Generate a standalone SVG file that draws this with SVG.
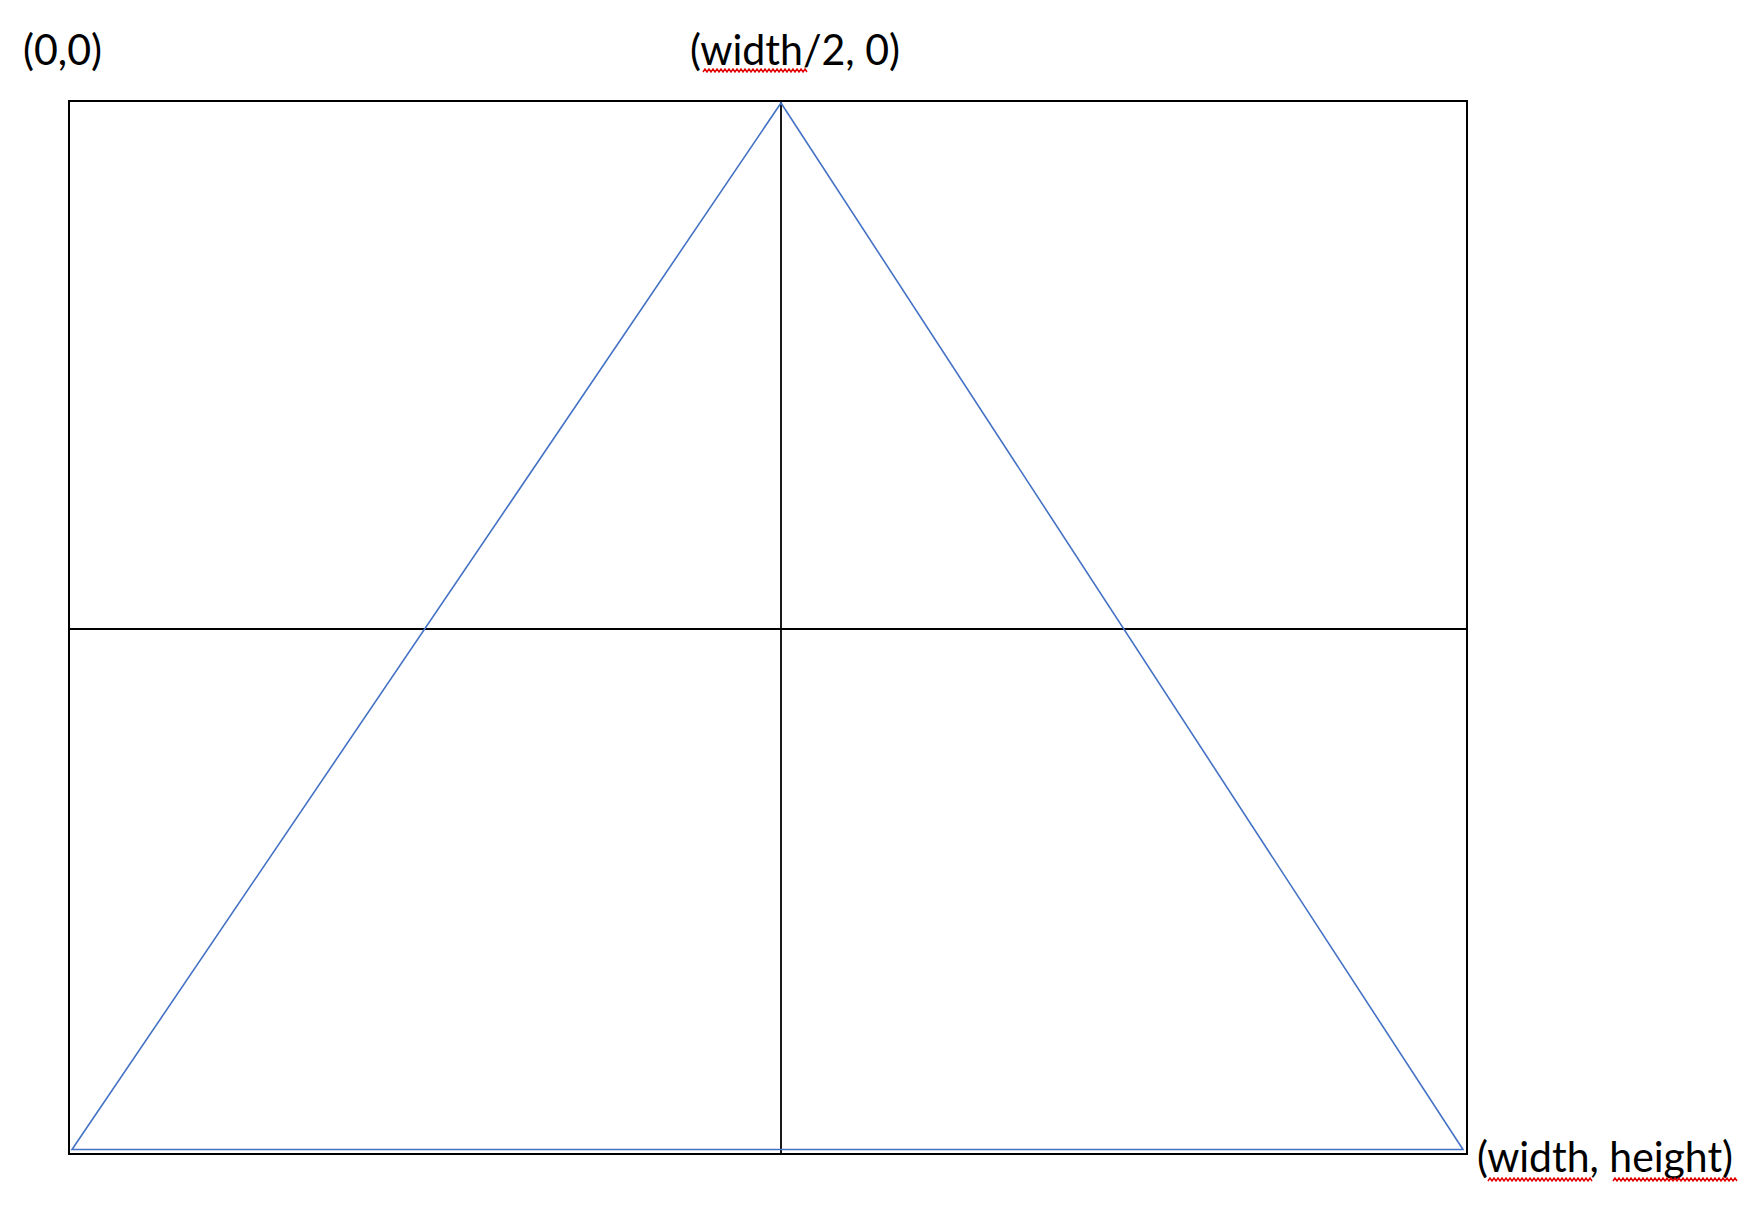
<svg xmlns="http://www.w3.org/2000/svg" width="1760" height="1210" viewBox="0 0 1760 1210">
<style>
.frame{fill:none;stroke:#000;stroke-width:2}
.grid{stroke:#000;stroke-width:1.8}
.tri{fill:none;stroke:#4472C4;stroke-width:1.6;stroke-linejoin:miter}
.lbl{font-family:Lato,"Open Sans","Liberation Sans",sans-serif;font-size:43px;fill:#000}
.sq{fill:none;stroke:#E00000;stroke-width:1.5}
</style>
<rect width="1760" height="1210" fill="#fff"/>
<g id="frame">
<rect class="frame" x="69" y="101" width="1398" height="1053"/>
<line class="grid" x1="781" y1="101" x2="781" y2="1154"/>
<line class="grid" x1="69" y1="629" x2="1467" y2="629"/>
</g>
<g id="triangle">
<polygon class="tri" points="781,103 72,1149.5 1463,1149.5"/>
</g>
<g id="labels">
<text class="lbl" x="23" y="65" textLength="79" lengthAdjust="spacingAndGlyphs">(0,0)</text>
<text class="lbl" x="690" y="65" textLength="210" lengthAdjust="spacingAndGlyphs">(width/2, 0)</text>
<text class="lbl" x="1477" y="1172" textLength="256" lengthAdjust="spacingAndGlyphs">(width, height)</text>
</g>
<g id="spellcheck">
<path class="sq" d="M703,72 l2,-3 l2,3 l2,-3 l2,3 l2,-3 l2,3 l2,-3 l2,3 l2,-3 l2,3 l2,-3 l2,3 l2,-3 l2,3 l2,-3 l2,3 l2,-3 l2,3 l2,-3 l2,3 l2,-3 l2,3 l2,-3 l2,3 l2,-3 l2,3 l2,-3 l2,3 l2,-3 l2,3 l2,-3 l2,3 l2,-3 l2,3 l2,-3 l2,3 l2,-3 l2,3 l2,-3 l2,3 l2,-3 l2,3 l2,-3 l2,3 l2,-3 l2,3 l2,-3 l2,3 l2,-3 l2,3 l2,-3 l2,3"/>
<path class="sq" d="M1488,1181 l2,-3 l2,3 l2,-3 l2,3 l2,-3 l2,3 l2,-3 l2,3 l2,-3 l2,3 l2,-3 l2,3 l2,-3 l2,3 l2,-3 l2,3 l2,-3 l2,3 l2,-3 l2,3 l2,-3 l2,3 l2,-3 l2,3 l2,-3 l2,3 l2,-3 l2,3 l2,-3 l2,3 l2,-3 l2,3 l2,-3 l2,3 l2,-3 l2,3 l2,-3 l2,3 l2,-3 l2,3 l2,-3 l2,3 l2,-3 l2,3 l2,-3 l2,3 l2,-3 l2,3 l2,-3 l2,3 l2,-3 l2,3"/>
<path class="sq" d="M1613,1181 l2,-3 l2,3 l2,-3 l2,3 l2,-3 l2,3 l2,-3 l2,3 l2,-3 l2,3 l2,-3 l2,3 l2,-3 l2,3 l2,-3 l2,3 l2,-3 l2,3 l2,-3 l2,3 l2,-3 l2,3 l2,-3 l2,3 l2,-3 l2,3 l2,-3 l2,3 l2,-3 l2,3 l2,-3 l2,3 l2,-3 l2,3 l2,-3 l2,3 l2,-3 l2,3 l2,-3 l2,3 l2,-3 l2,3 l2,-3 l2,3 l2,-3 l2,3 l2,-3 l2,3 l2,-3 l2,3 l2,-3 l2,3 l2,-3 l2,3 l2,-3 l2,3 l2,-3 l2,3 l2,-3 l2,3 l2,-3 l2,3"/>
</g>
</svg>
